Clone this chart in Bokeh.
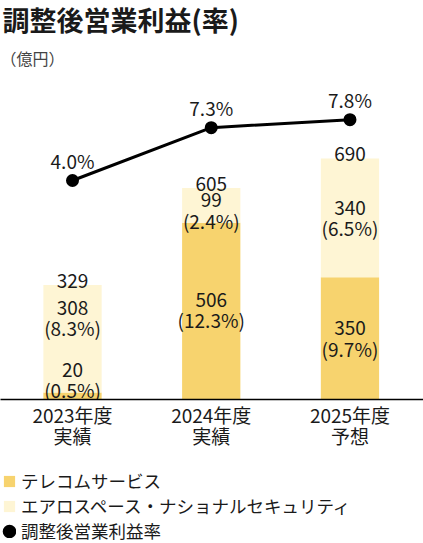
from bokeh.plotting import figure
from bokeh.layouts import column
from bokeh.models import (Range1d, LinearAxis, FixedTicker, Legend, LegendItem,
                          Label, ColumnDataSource)
from bokeh.core.properties import value
from bokeh.embed import file_html
from bokeh.resources import INLINE

# datos
years = ["2023", "2024", "2025"]
tick_labels = ["2023年度\n実績", "2024年度\n実績", "2025年度\n予想"]
telecom = [20, 506, 350]
telecom_rate = ["0.5%", "12.3%", "9.7%"]
aero = [308, 99, 340]
aero_rate = ["8.3%", "2.4%", "6.5%"]
totals = [329, 605, 690]
margin = [4.0, 7.3, 7.8]
series = ["テレコムサービス", "エアロスペース・ナショナルセキュリティ", "調整後営業利益率"]

FONT = "Noto Sans CJK JP"
C_TEL = "#F7D36E"
C_AERO = "#FEF5D4"
TXT = "#1a1a1a"

xs = list(range(len(years)))

p = figure(width=423, height=466, output_backend="svg", toolbar_location=None,
           x_range=Range1d(-0.519, 2.530), y_range=Range1d(0, 1142),
           x_axis_type=None, y_axis_type=None, title=None,
           min_border_left=0, min_border_right=0, min_border_top=0,
           min_border_bottom=67, outline_line_color=None)
p.extra_y_ranges = {"rate": Range1d(-9.69, 15.25)}

src = ColumnDataSource(dict(
    x=xs, telecom=telecom, aero=aero,
    tel_mid=[t / 2 for t in telecom],
    aero_mid=[t + a / 2 for t, a in zip(telecom, aero)],
    tel_txt=[f"{v}\n({r})" for v, r in zip(telecom, telecom_rate)],
    aero_txt=[f"{v}\n({r})" for v, r in zip(aero, aero_rate)],
    tel_off=[-17, -2, -1],   # etiquetas que no caben en el segmento
    aero_off=[-22, 4, -1],
    total=totals, total_txt=[str(t) for t in totals],
    rate=margin, rate_txt=[f"{m:.1f}%" for m in margin],
))

barras = p.vbar_stack(["telecom", "aero"], x="x", width=0.42, source=src,
                      fill_color=[C_TEL, C_AERO], line_color=None)

txt_kw = dict(text_align="center", text_font=value(FONT), text_font_size="19px",
              text_color=TXT, source=src)
p.text(x="x", y="tel_mid", text="tel_txt", y_offset="tel_off",
       text_baseline="middle", text_line_height=0.79, **txt_kw)
p.text(x="x", y="aero_mid", text="aero_txt", y_offset="aero_off",
       text_baseline="middle", text_line_height=0.79, **txt_kw)
p.text(x="x", y="total", text="total_txt", y_offset=-4,
       text_baseline="alphabetic", **txt_kw)

# línea del margen
p.line(x="x", y="rate", source=src, y_range_name="rate", line_width=3, color="black")
p.scatter(x="x", y="rate", source=src, y_range_name="rate",
          size=5, line_width=8, color="black")
p.text(x="x", y="rate", text="rate_txt", y_range_name="rate", y_offset=-20,
       text_baseline="middle", **txt_kw)

eje = LinearAxis(ticker=FixedTicker(ticks=xs),
                 major_label_overrides={i: t for i, t in zip(xs, tick_labels)})
eje.axis_line_color = "black"
eje.axis_line_width = 1.5
eje.major_tick_line_color = None
eje.minor_tick_line_color = None
eje.major_label_standoff = -5
eje.major_label_text_font = FONT
eje.major_label_text_font_size = "19px"
eje.major_label_text_line_height = 0.8
eje.major_label_text_color = TXT
p.add_layout(eje, "below")

p.add_layout(Label(x=2, y=380, x_units="screen", y_units="screen",
                   text="調整後営業利益(率)", text_font=FONT, text_font_size="27px",
                   text_font_style="bold", text_color=TXT, text_baseline="middle"))
p.add_layout(Label(x=0, y=342, x_units="screen", y_units="screen",
                   text="（億円）", text_font=FONT, text_font_size="16px",
                   text_color="#444444", text_baseline="middle"))

# leyenda en una franja aparte: mismos datos, fuera del rango visible
lg = figure(width=423, height=77, output_backend="svg", toolbar_location=None,
            x_range=Range1d(-3, -2), y_range=Range1d(-2, -1),
            x_axis_type=None, y_axis_type=None, title=None,
            min_border_left=0, min_border_right=0, min_border_top=0,
            min_border_bottom=0, outline_line_color=None)
r_tel = lg.vbar(x=xs, top=telecom, width=0.4, fill_color=C_TEL, line_color=None)
r_aero = lg.vbar(x=xs, top=aero, width=0.4, fill_color=C_AERO, line_color=None)
r_dot = lg.scatter(x=xs, y=margin, size=5, line_width=8, color="black")

leyenda = Legend(items=[LegendItem(label=s, renderers=[r])
                        for s, r in zip(series, [r_tel, r_aero, r_dot])],
                 location="top_left", glyph_width=14, glyph_height=14,
                 label_standoff=5, spacing=-3, padding=0, margin=2, label_height=20,
                 label_text_font=FONT, label_text_font_size="17.5px",
                 label_text_color=TXT, border_line_color=None,
                 background_fill_alpha=0)
lg.add_layout(leyenda)

open("out.html", "w").write(file_html(column(p, lg), INLINE))
